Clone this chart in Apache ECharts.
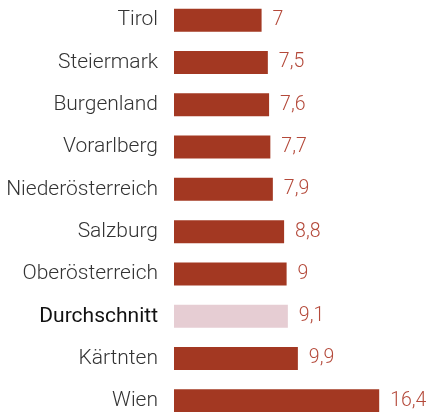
<!DOCTYPE html>
<html><head><meta charset="utf-8">
<script src="https://cdn.jsdelivr.net/npm/echarts@6/dist/echarts.min.js"></script>
<style>html,body{margin:0;padding:0;background:#fff}#c{width:428px;height:412px}</style>
</head><body><div id="c"></div>
<script>
const categories = ['Tirol','Steiermark','Burgenland','Vorarlberg','Niederösterreich','Salzburg','Oberösterreich','Durchschnitt','Kärtnten','Wien'];
const values = [7, 7.5, 7.6, 7.7, 7.9, 8.8, 9, 9.1, 9.9, 16.4];
const highlight = 'Durchschnitt';

const chart = echarts.init(document.getElementById('c'));
chart.setOption({
  animation: false,
  grid: { left: 174, top: -1, width: 254, height: 423, outerBoundsMode: 'none', containLabel: false },
  xAxis: { type: 'value', min: 0, max: 20.3, show: false },
  yAxis: {
    type: 'category', inverse: true,
    data: categories.map(c => c === highlight
      ? { value: c, textStyle: { fontWeight: 400, color: '#111' } }
      : c),
    axisLine: { show: false }, axisTick: { show: false },
    axisLabel: { margin: 16, fontFamily: 'Roboto', fontSize: 21, color: '#333', fontWeight: 300 }
  },
  series: [{
    type: 'bar',
    barWidth: 23,
    data: values.map((v, i) => ({
      value: v,
      itemStyle: { color: categories[i] === highlight ? '#e6cdd3' : '#a33822' }
    })),
    label: {
      show: true, position: 'right', distance: 11,
      fontFamily: 'Roboto', fontSize: 19.5, fontWeight: 300, color: '#b4493a',
      formatter: p => String(p.value).replace('.', ',')
    }
  }]
});
</script></body></html>
